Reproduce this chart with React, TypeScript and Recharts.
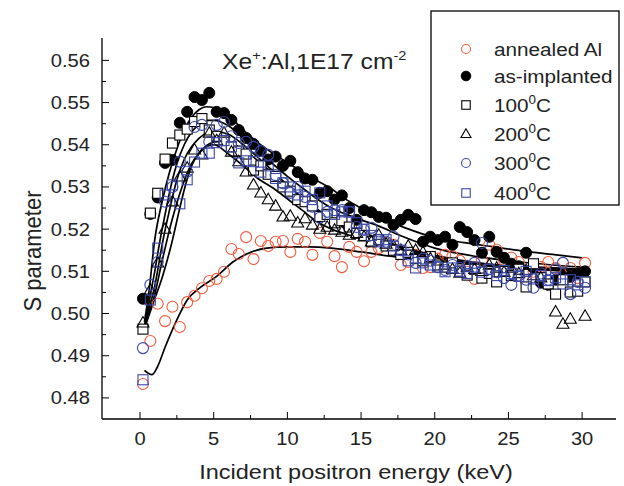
import React from "react";
import { ComposedChart, Scatter, Line, XAxis, YAxis } from "recharts";

// incident positron energy (keV), shared by all measured series
const energy = [
  0.2, 0.7, 1.2, 1.7, 2.2, 2.7, 3.2, 3.7, 4.2, 4.7,
  5.2, 5.7, 6.2, 6.7, 7.2, 7.7, 8.2, 8.7, 9.2, 9.7,
  10.2, 10.7, 11.2, 11.7, 12.2, 12.7, 13.2, 13.7, 14.2, 14.7,
  15.2, 15.7, 16.2, 16.7, 17.2, 17.7, 18.2, 18.7, 19.2, 19.7,
  20.2, 20.7, 21.2, 21.7, 22.2, 22.7, 23.2, 23.7, 24.2, 24.7,
  25.2, 25.7, 26.2, 26.7, 27.2, 27.7, 28.2, 28.7, 29.2, 29.7,
  30.2,
];

const annealed = [
  0.4833, 0.4935, 0.5023, 0.4982, 0.5016, 0.4968, 0.5027, 0.5042, 0.506, 0.5077,
  0.5082, 0.5099, 0.5153, 0.5141, 0.5181, 0.5129, 0.5172, 0.516, 0.517, 0.5172,
  0.5146, 0.5177, 0.517, 0.5139, 0.5191, 0.517, 0.5136, 0.511, 0.5158, 0.5146,
  0.5124, 0.5146, 0.5155, 0.5167, 0.5163, 0.5115, 0.5122, 0.5139, 0.5108, 0.511,
  0.513, 0.5139, 0.5136, 0.5125, 0.5099, 0.5082, 0.5127, 0.5163, 0.5151, 0.5127,
  0.5132, 0.5122, 0.5075, 0.5099, 0.511, 0.5122, 0.5108, 0.5087, 0.5108, 0.5084,
  0.512,
];

const asImplanted = [
  0.5035, 0.5236, 0.5275, 0.5357, 0.5364, 0.5452, 0.5478, 0.5513, 0.5506, 0.5523,
  0.5478, 0.5475, 0.5459, 0.5435, 0.5416, 0.5402, 0.5385, 0.5365, 0.5372, 0.535,
  0.5362, 0.5335, 0.532, 0.5317, 0.5286, 0.529, 0.527, 0.528, 0.525, 0.5222,
  0.5245, 0.524, 0.5229, 0.5227, 0.521, 0.5222, 0.5234, 0.5224, 0.517, 0.5182,
  0.5174, 0.5182, 0.5163, 0.5205, 0.5193, 0.5174, 0.5144, 0.5182, 0.5146, 0.5132,
  0.5118, 0.5112, 0.5144, 0.5108, 0.5073, 0.5068, 0.508, 0.5087, 0.5087, 0.5095,
  0.51,
];

const t100 = [
  0.4963, 0.5238, 0.5285, 0.5366, 0.5404, 0.5423, 0.5437, 0.5455, 0.5462, 0.5435,
  0.542, 0.541, 0.5395, 0.5385, 0.5378, 0.534, 0.535, 0.533, 0.5325, 0.53,
  0.529, 0.527, 0.5265, 0.5255, 0.523, 0.5235, 0.5215, 0.522, 0.5205, 0.519,
  0.5185, 0.517, 0.5175, 0.516, 0.515, 0.514, 0.5145, 0.513, 0.5125, 0.5135,
  0.5115, 0.511, 0.512, 0.51, 0.5091, 0.5105, 0.5084, 0.5095, 0.5075, 0.51,
  0.509, 0.5105, 0.5063, 0.5118, 0.5085, 0.507, 0.5046, 0.508, 0.5051, 0.5053,
  0.5075,
];

const t200 = [
  0.4978, 0.5056, 0.512, 0.52, 0.5265, 0.5324, 0.5345, 0.5388, 0.5376, 0.5428,
  0.541, 0.5428, 0.5383, 0.536, 0.5336, 0.5305, 0.5286, 0.527, 0.5255, 0.5229,
  0.5231, 0.5215, 0.5225, 0.521, 0.52, 0.5205, 0.5198, 0.5193, 0.5186, 0.519,
  0.5182, 0.517, 0.5186, 0.5165, 0.516, 0.515, 0.516, 0.515, 0.5145, 0.513,
  0.5125, 0.5115, 0.5105, 0.5096, 0.511, 0.5105, 0.51, 0.5115, 0.5108, 0.5098,
  0.5108, 0.5095, 0.5102, 0.509, 0.5085, null, 0.5004, 0.4975, 0.4987, null,
  0.4994,
];

const t300 = [
  0.4918, 0.5068, 0.5122, 0.5265, 0.53, 0.536, 0.5336, 0.5442, 0.5447, 0.5407,
  0.5447, 0.5454, 0.542, 0.5404, 0.5407, 0.5395, 0.5385, 0.5376, 0.5328, 0.5309,
  0.5286, 0.53, 0.5276, 0.5253, 0.5227, 0.5241, 0.5245, 0.5245, 0.5241, 0.5205,
  0.5198, 0.5203, 0.5175, 0.517, 0.5182, 0.515, 0.514, 0.512, 0.513, 0.5125,
  0.511, 0.5103, 0.5115, 0.5108, 0.5112, 0.512, 0.5167, 0.5105, 0.5098, 0.5084,
  0.5068, 0.509, 0.508, 0.5061, 0.5095, 0.508, 0.5105, 0.512, 0.5046, 0.5075,
  0.5061,
];

const t400 = [
  0.4843, 0.5032, 0.5155, 0.5281, 0.5305, 0.526, 0.5317, 0.5359, 0.538, 0.538,
  0.5405, 0.541, 0.5395, 0.5357, 0.5362, 0.536, 0.5335, 0.535, 0.532, 0.531,
  0.53, 0.5281, 0.529, 0.527, 0.5286, 0.5255, 0.5235, 0.5241, 0.5241, 0.5215,
  0.52, 0.5185, 0.517, 0.5175, 0.516, 0.515, 0.5125, 0.5108, 0.512, 0.5115,
  0.511, 0.5099, 0.5108, 0.51, 0.5095, 0.511, 0.5098, 0.5105, 0.509, 0.5102,
  0.5095, 0.5088, 0.51, 0.5082, 0.509, 0.5078, 0.5085, 0.507, 0.508, 0.5068,
  0.5075,
];

// fitted curves, [energy, S]
const fitAnnealed = [
  [0.3, 0.4865], [0.8, 0.4855], [1.2, 0.4875], [1.7, 0.492], [2.5, 0.4985], [3.2, 0.5032],
  [4.1, 0.5062], [5.2, 0.5088], [6.3, 0.5122], [7.5, 0.5145], [8.6, 0.5155], [10, 0.5158],
  [11.5, 0.5158], [13, 0.5155], [15, 0.5146], [17, 0.5136], [19, 0.5128], [21, 0.512],
  [24, 0.5115], [27, 0.511], [30, 0.5105],
];
const fitAsImplanted = [
  [0.3, 0.498], [0.6, 0.505], [1.0, 0.5175], [1.5, 0.5265], [2.0, 0.5335], [2.5, 0.539],
  [3, 0.5435], [3.5, 0.5465], [4, 0.5483], [4.5, 0.549], [5, 0.5488], [6, 0.547], [7, 0.5435],
  [8, 0.5405], [9, 0.538], [10, 0.5358], [11, 0.5335], [12, 0.5315], [13, 0.5295], [14, 0.527],
  [15, 0.525], [16, 0.5232], [18, 0.5203], [20, 0.518], [22, 0.5168], [24, 0.5158],
  [26, 0.5148], [28, 0.514], [30, 0.5132],
];
const fit100 = [
  [0.3, 0.497], [0.6, 0.5025], [1.0, 0.51], [1.36, 0.5174], [1.7, 0.5235], [2.2, 0.5317],
  [2.5, 0.5355], [3, 0.54], [3.5, 0.543], [4, 0.5448], [4.5, 0.5458], [5, 0.5458], [6, 0.5445],
  [7, 0.5415], [8, 0.5385], [9, 0.5355], [10, 0.5325], [11, 0.5298], [12, 0.5272], [13, 0.525],
  [14, 0.5235], [15, 0.5222], [16, 0.521], [18, 0.518], [20, 0.5155], [22, 0.514], [25, 0.5125],
  [28, 0.5115], [30, 0.511],
];
const fit200 = [
  [0.3, 0.4965], [0.6, 0.5], [1.0, 0.5045], [1.5, 0.5125], [1.83, 0.5174], [2.2, 0.5225],
  [2.85, 0.53], [3.5, 0.5355], [4, 0.538], [4.5, 0.5395], [5, 0.54], [6, 0.5378], [7, 0.535],
  [8, 0.532], [9, 0.5298], [10, 0.5272], [11, 0.5245], [12, 0.5218], [13, 0.52], [14, 0.5188],
  [15, 0.5178], [16, 0.517], [18, 0.5155], [20, 0.5138], [22, 0.5125], [25, 0.5112],
  [28, 0.5103], [30, 0.5098],
];
const fit300 = [
  [0.3, 0.497], [0.6, 0.501], [1.0, 0.5065], [1.56, 0.5174], [2, 0.5245], [2.5, 0.5317],
  [3, 0.5365], [3.5, 0.5395], [4, 0.5415], [4.5, 0.5428], [5, 0.5432], [6, 0.5425], [7, 0.54],
  [8, 0.537], [9, 0.5338], [10, 0.5305], [11, 0.5275], [12, 0.5248], [13, 0.5225], [14, 0.5208],
  [15, 0.5195], [16, 0.518], [18, 0.5155], [20, 0.5135], [22, 0.5122], [25, 0.5112],
  [28, 0.5106], [30, 0.5103],
];
const fit400 = [
  [0.3, 0.4965], [0.6, 0.4995], [1.0, 0.5035], [1.5, 0.5085], [2.2, 0.5174], [2.6, 0.5235],
  [3.05, 0.53], [3.5, 0.535], [4, 0.538], [4.5, 0.5398], [5, 0.5406], [5.5, 0.5408], [6, 0.5405],
  [7, 0.539], [8, 0.5362], [9, 0.5332], [10, 0.53], [11, 0.527], [12, 0.5243], [13, 0.522],
  [14, 0.5202], [15, 0.5188], [16, 0.5175], [18, 0.5152], [20, 0.5133], [22, 0.512],
  [25, 0.5108], [28, 0.5102], [30, 0.51],
];

const xTicks = [0, 2.5, 5, 7.5, 10, 12.5, 15, 17.5, 20, 22.5, 25, 27.5, 30];
const yTicks = [
  0.48, 0.485, 0.49, 0.495, 0.5, 0.505, 0.51, 0.515, 0.52,
  0.525, 0.53, 0.535, 0.54, 0.545, 0.55, 0.555, 0.56,
];

const ORANGE = "#f25a3c";
const BLUE = "#3a48a8";
const FONT = "'Liberation Sans', Arial, sans-serif";

const toPoints = (vals: (number | null)[]) =>
  energy.map((e, i) => ({ x: e, y: vals[i] })).filter((p) => p.y != null);
const toFit = (pairs: number[][]) => pairs.map(([x, y]) => ({ x, y }));

const openCircle = (color: string, r = 5.5) => (p: any) =>
  <circle cx={p.cx} cy={p.cy} r={r} fill="none" stroke={color} strokeWidth={1.1} />;
const filledCircle = (r = 5.5) => (p: any) =>
  <circle cx={p.cx} cy={p.cy} r={r} fill="#000" stroke="#000" />;
const square = (color: string, s = 10, fill = "none") => (p: any) =>
  <rect x={p.cx - s / 2} y={p.cy - s / 2} width={s} height={s} fill={fill} stroke={color} strokeWidth={1.1} />;
const triangle = (color: string, w = 12) => (p: any) => {
  const h = w * 0.87;
  return (
    <polygon
      points={`${p.cx},${p.cy - h * 0.6} ${p.cx - w / 2},${p.cy + h * 0.4} ${p.cx + w / 2},${p.cy + h * 0.4}`}
      fill="none" stroke={color} strokeWidth={1.1}
    />
  );
};

const isMajorX = (v: number) => v % 5 === 0;
const isMajorY = (v: number) => Math.round(v * 1000) % 10 === 0;

function SText({ x, y, size, anchor = "start", children }: any) {
  return (
    <text transform={`translate(${x},${y}) scale(1.12,1)`} textAnchor={anchor}
      fontSize={size} fontFamily={FONT} fill="#222">
      {children}
    </text>
  );
}

const BottomTick = (p: any) => {
  const v = p.payload.value;
  return (
    <g>
      <line x1={p.x} x2={p.x} y1={p.y} y2={p.y - (isMajorX(v) ? 7 : 4)} stroke="#000" />
      {isMajorX(v) && <SText x={p.x} y={p.y + 26} size={18} anchor="middle">{v}</SText>}
    </g>
  );
};
const TopTick = (p: any) => (
  <line x1={p.x} x2={p.x} y1={p.y} y2={p.y + (isMajorX(p.payload.value) ? 7 : 4)} stroke="#000" />
);
const LeftTick = (p: any) => {
  const v = p.payload.value;
  return (
    <g>
      <line x1={p.x} x2={p.x + (isMajorY(v) ? 7 : 4)} y1={p.y} y2={p.y} stroke="#000" />
      {isMajorY(v) && <SText x={p.x - 12} y={p.y + 6.5} size={18} anchor="end">{v.toFixed(2)}</SText>}
    </g>
  );
};
const RightTick = (p: any) => (
  <line x1={p.x} x2={p.x - (isMajorY(p.payload.value) ? 7 : 4)} y1={p.y} y2={p.y} stroke="#000" />
);

const legendRows = [
  { label: "annealed Al", sup: null, marker: openCircle(ORANGE, 4.5) },
  { label: "as-implanted", sup: null, marker: filledCircle(4.8) },
  { label: "100", sup: "0", marker: square("#000", 8.5) },
  { label: "200", sup: "0", marker: triangle("#000", 10) },
  { label: "300", sup: "0", marker: openCircle(BLUE, 4.5) },
  { label: "400", sup: "0", marker: square(BLUE, 8.5) },
];
const legendY = [49, 76, 105, 134, 163, 193];

export default function App() {
  const axisLine = { stroke: "#000", strokeWidth: 1.3 };
  return (
    <div style={{ position: "absolute", left: 0, top: 0, width: 624, height: 486, background: "#fff" }}>
      <ComposedChart width={624} height={486} margin={{ top: 38, right: 8, left: 0, bottom: 0 }}>
        <XAxis dataKey="x" type="number" domain={[-2.58, 32.3]} allowDataOverflow ticks={xTicks}
          interval={0} height={67} tickSize={0} tickMargin={0} tickLine={false}
          axisLine={axisLine} tick={BottomTick} />
        <XAxis xAxisId="top" orientation="top" type="number" domain={[-2.58, 32.3]} allowDataOverflow
          ticks={xTicks} interval={0} height={0} tickSize={0} tickMargin={0} tickLine={false}
          axisLine={axisLine} tick={TopTick} />
        <YAxis dataKey="y" type="number" domain={[0.475, 0.5653]} allowDataOverflow ticks={yTicks}
          interval={0} width={102} tickSize={0} tickMargin={0} tickLine={false}
          axisLine={axisLine} tick={LeftTick} />
        <YAxis yAxisId="right" orientation="right" type="number" domain={[0.475, 0.5653]} allowDataOverflow
          ticks={yTicks} interval={0} width={0} tickSize={0} tickMargin={0} tickLine={false}
          axisLine={axisLine} tick={RightTick} />

        <Scatter data={toPoints(annealed)} shape={openCircle(ORANGE)} isAnimationActive={false} />
        <Scatter data={toPoints(asImplanted)} shape={filledCircle()} isAnimationActive={false} />
        <Scatter data={toPoints(t100)} shape={square("#000", 10, "#fff")} isAnimationActive={false} />
        <Scatter data={toPoints(t200)} shape={triangle("#000")} isAnimationActive={false} />
        <Scatter data={toPoints(t300)} shape={openCircle(BLUE)} isAnimationActive={false} />
        <Scatter data={toPoints(t400)} shape={square(BLUE)} isAnimationActive={false} />

        {[fitAnnealed, fitAsImplanted, fit100, fit200, fit300, fit400].map((f, i) => (
          <Line key={i} data={toFit(f)} dataKey="y" type="monotone" dot={false} activeDot={false}
            stroke="#000" strokeWidth={1.7} isAnimationActive={false} />
        ))}
      </ComposedChart>

      <svg width={624} height={486} style={{ position: "absolute", left: 0, top: 0, pointerEvents: "none" }}>
        <text transform="translate(41,251) scale(1.12,1) rotate(-90)" textAnchor="middle"
          fontSize={22} fontFamily={FONT} fill="#222">S parameter</text>
        <SText x={356} y={479} size={21} anchor="middle">Incident positron energy (keV)</SText>
        <SText x={222} y={69} size={22}>
          Xe<tspan fontSize={13} dy={-9}>+</tspan>
          <tspan dy={9}>:Al,1E17 cm</tspan>
          <tspan fontSize={13} dy={-9}>-2</tspan>
        </SText>

        <rect x={431} y={11} width={188} height={194} fill="#fff" stroke="#000" strokeWidth={1.3} />
        {legendRows.map((row, i) => (
          <g key={row.label}>
            {row.marker({ cx: 466, cy: legendY[i] })}
            <SText x={494} y={legendY[i] + 7} size={18.5}>
              {row.label}
              {row.sup && <tspan fontSize={12} dy={-8}>{row.sup}</tspan>}
              {row.sup && <tspan dy={8}>C</tspan>}
            </SText>
          </g>
        ))}
      </svg>
    </div>
  );
}
